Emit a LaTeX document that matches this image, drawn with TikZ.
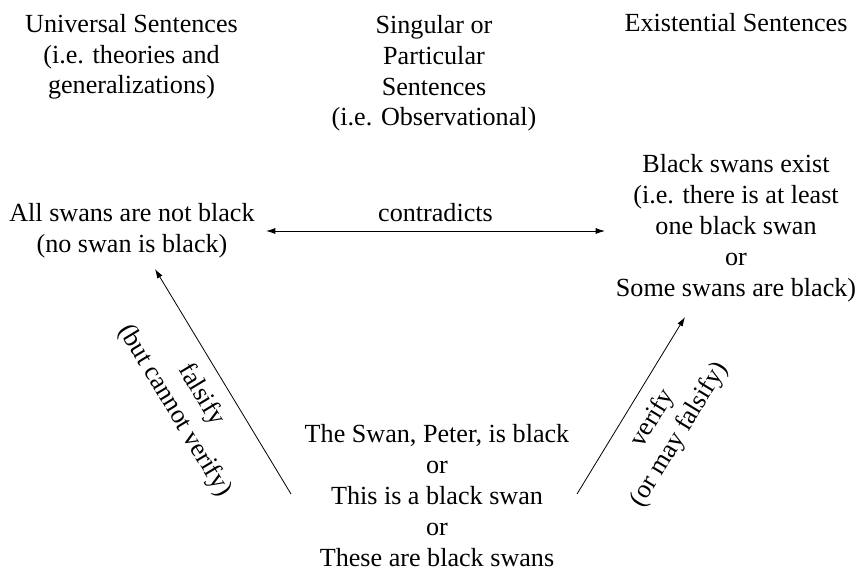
\documentclass[tikz,border=0pt]{standalone}
\usepackage{fontspec}
\setmainfont{Liberation Serif}
\usetikzlibrary{arrows.meta}
\begin{document}
\begin{tikzpicture}[x=0.75pt,y=-0.75pt,>={Latex[length=7pt,width=4.5pt]},
  txt/.style={align=center,anchor=base,inner sep=0pt,font=\fontsize{19.6}{23.2}\selectfont},
  arr/.style={line width=0.6pt}]
\useasboundingbox (0,0) rectangle (859,570);
% column heads (anchor base = last line)
\node[txt] (univ) at (131.5,94) {Universal Sentences\\(i.e. theories and\\generalizations)};
\node[txt] (sing) at (434,126) {Singular or\\Particular\\Sentences\\(i.e. Observational)};
\node[txt] (exist) at (736,31.7) {Existential Sentences};
% statements
\node[txt] (allnot) at (132,252.7) {All swans are not black\\(no swan is black)};
\node[txt] (blackex) at (736,296.5) {Black swans exist\\(i.e. there is at least\\one black swan\\or\\Some swans are black)};
\node[txt] (peter) at (437,566.5) {The Swan, Peter, is black\\or\\This is a black swan\\or\\These are black swans};
% arrow ends
\coordinate (c1) at (266,231);
\coordinate (c2) at (605,231);
\coordinate (lt) at (291,494);
\coordinate (lh) at (155,269);
\coordinate (rt) at (577,494);
\coordinate (rh) at (685,317);
\draw[arr,<->] (c1)--(c2) node[txt,midway,above=7pt] (contra) {contradicts};
\draw[arr,->] (lt)--(lh) node[txt,midway,sloped,below=10pt] (fals) {falsify\\(but cannot verify)};
\draw[arr,->] (rt)--(rh) node[txt,midway,sloped,below=10pt] (veri) {verify\\(or may falsify)};
\end{tikzpicture}
\end{document}
